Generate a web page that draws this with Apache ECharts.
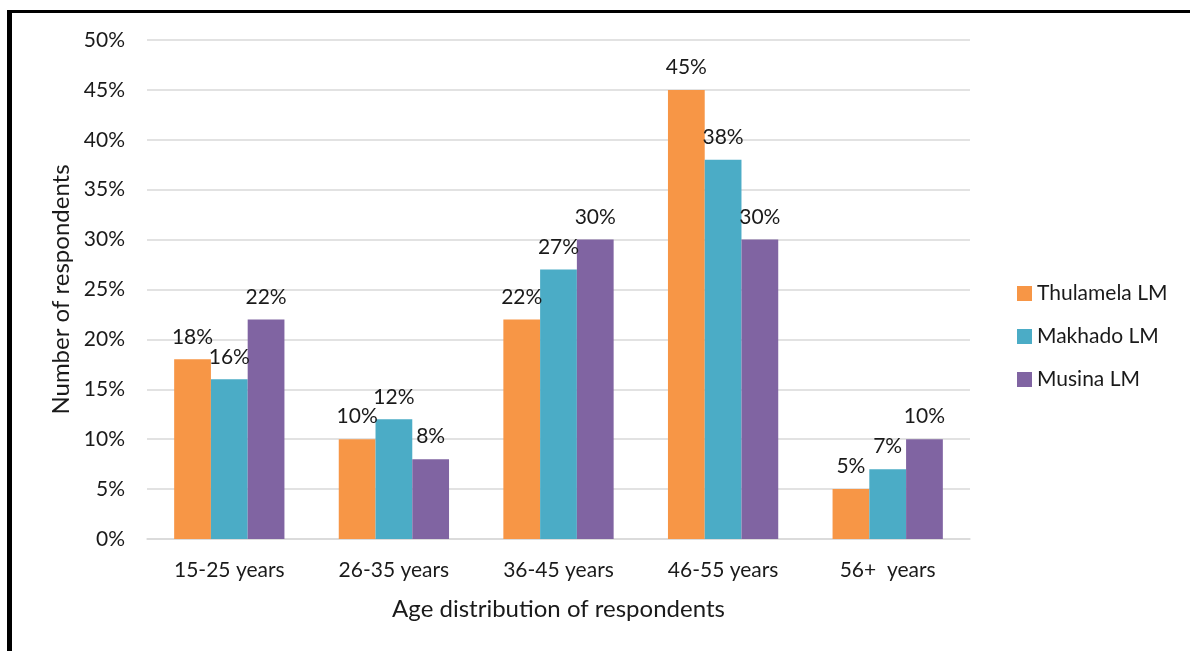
<!DOCTYPE html>
<html>
<head>
<meta charset="utf-8">
<script src="https://cdn.jsdelivr.net/npm/echarts@6/dist/echarts.min.js"></script>
<style>
  html, body { margin: 0; padding: 0; background: #fff; }
  #main { width: 1190px; height: 651px; }
</style>
</head>
<body>
<div id="main"></div>
<script>
// data
var ageGroups = ['15-25 years', '26-35 years', '36-45 years', '46-55 years', '56+  years'];
var thulamela = [18, 10, 22, 45, 5];
var makhado = [16, 12, 27, 38, 7];
var musina = [22, 8, 30, 30, 10];

var seriesNames = ['Thulamela LM', 'Makhado LM', 'Musina LM'];
var seriesColors = ['#F79646', '#4BACC6', '#8064A2'];

var font = 'Lato';
var txt = '#1a1a1a';

function makeSeries(name, data, color) {
    return {
        name: name,
        type: 'bar',
        data: data,
        barGap: 0,
        barCategoryGap: '33%',
        itemStyle: { color: color },
        label: {
            show: true,
            position: 'top',
            distance: 12,
            formatter: '{c}%',
            color: txt,
            fontFamily: font,
            fontSize: 21
        }
    };
}

var myChart = echarts.init(document.getElementById('main'));

myChart.setOption({
    animation: false,
    textStyle: { fontFamily: font },
    grid: { left: 147, right: 220, top: 40, bottom: 112 },
    legend: {
        orient: 'vertical',
        left: 1012,
        top: 278,
        itemWidth: 15,
        itemHeight: 15,
        itemGap: 22,
        icon: 'rect',
        textStyle: { fontFamily: font, fontSize: 21, color: txt },
        data: seriesNames
    },
    xAxis: {
        type: 'category',
        data: ageGroups,
        name: 'Age distribution of respondents',
        nameLocation: 'middle',
        nameGap: 58,
        nameTextStyle: { fontFamily: font, fontSize: 24, color: txt },
        axisLine: { lineStyle: { color: '#D9D9D9', width: 1.5 } },
        axisTick: { show: false },
        axisLabel: { fontFamily: font, fontSize: 21, color: txt, margin: 21 }
    },
    yAxis: {
        type: 'value',
        min: 0,
        max: 50,
        interval: 5,
        name: 'Number of respondents',
        nameLocation: 'middle',
        nameGap: 74,
        nameTextStyle: { fontFamily: font, fontSize: 24, color: txt },
        axisLine: { show: false },
        axisTick: { show: false },
        axisLabel: { formatter: '{value}%', fontFamily: font, fontSize: 21, color: txt, margin: 22 },
        splitLine: { lineStyle: { color: '#D9D9D9', width: 1.5 } }
    },
    graphic: [
        { type: 'rect', shape: { x: 7, y: 10, width: 1183, height: 3 }, style: { fill: '#000' } },
        { type: 'rect', shape: { x: 7, y: 10, width: 5, height: 641 }, style: { fill: '#000' } }
    ],
    series: [
        makeSeries(seriesNames[0], thulamela, seriesColors[0]),
        makeSeries(seriesNames[1], makhado, seriesColors[1]),
        makeSeries(seriesNames[2], musina, seriesColors[2])
    ]
});
</script>
</body>
</html>
